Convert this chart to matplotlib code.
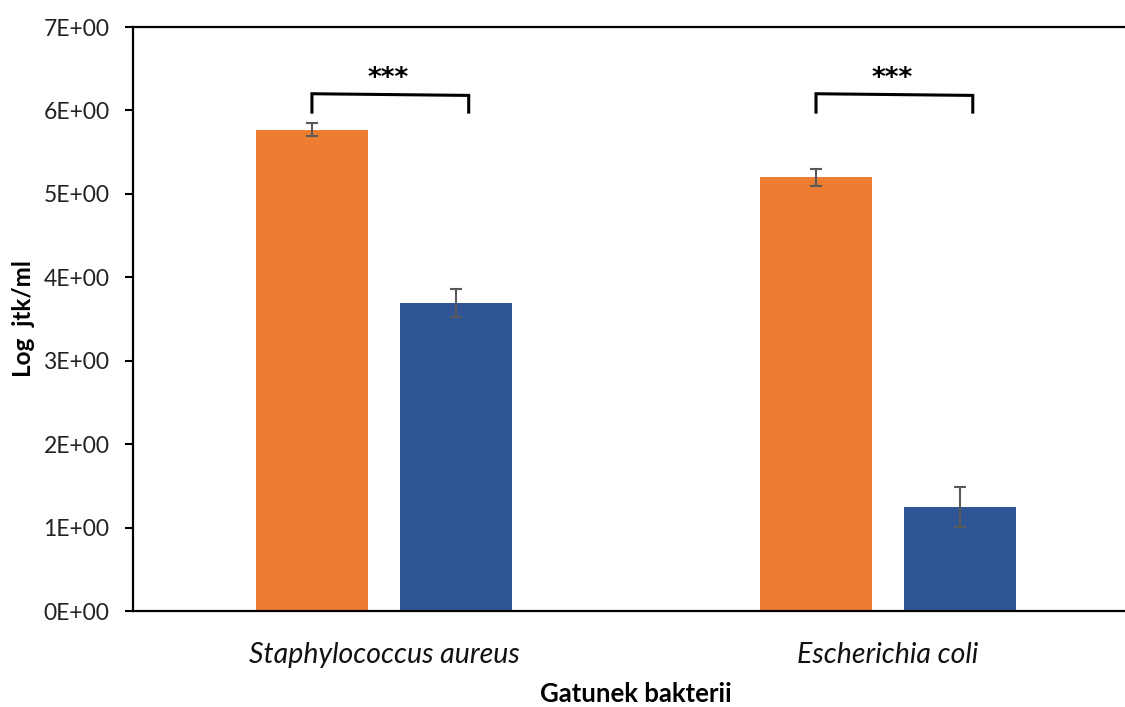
import matplotlib
matplotlib.use("Agg")
import matplotlib.pyplot as plt
import numpy as np

categories = ["Staphylococcus aureus", "Escherichia coli"]
orange_vals = [5.77, 5.20]
orange_err = [0.08, 0.10]
blue_vals = [3.69, 1.25]
blue_err = [0.17, 0.24]
yticks = [0, 1, 2, 3, 4, 5, 6, 7]
ytick_labels = ["0E+00", "1E+00", "2E+00", "3E+00", "4E+00", "5E+00", "6E+00", "7E+00"]
sig_labels = ["***", "***"]

plt.rcParams['font.family'] = ['Lato', 'DejaVu Sans']

W, H = 1125, 707
fig = plt.figure(figsize=(W/100, H/100), dpi=100)
ax = fig.add_axes([133/W, 1-611/H, (1125-133)/W, (611-27)/H])

x = np.arange(len(categories))
bw = 0.222
off = 0.143
ekw = dict(ecolor="#595959", elinewidth=1.5, capsize=4.3, capthick=1.5)
ax.bar(x - off, orange_vals, bw, color="#ED7D31", yerr=orange_err, error_kw=ekw, zorder=2)
ax.bar(x + off, blue_vals, bw, color="#2F5597", yerr=blue_err, error_kw=ekw, zorder=2)

ax.set_xlim(-0.498, 1.470)
ax.set_ylim(0, 7)
ax.set_yticks(yticks)
ax.set_yticklabels(ytick_labels, fontsize=16.5, color="#222222")
ax.set_xticks(x)
ax.set_xticklabels(categories, fontsize=20.5, style="italic", color="#111111")
ax.tick_params(axis="x", length=0, pad=22)
ax.tick_params(axis="y", length=6, width=1.5, direction="out", pad=11)

for s in ["left", "bottom", "top"]:
    ax.spines[s].set_linewidth(1.6)
    ax.spines[s].set_color("black")
ax.spines["right"].set_visible(False)

ax.set_ylabel("Log  jtk/ml", fontsize=17.5, fontweight="bold", labelpad=6)
fig.text(636 / W, (707 - 694) / H, "Gatunek bakterii",
         ha="center", va="center", fontsize=18.5, fontweight="bold")

# significance brackets
for i, lab in enumerate(sig_labels):
    xl = i - off
    xr = i + off + 0.025
    ax.plot([xl, xl, xr, xr], [5.98, 6.2, 6.18, 5.98], color="black", lw=2.2,
            solid_joinstyle="miter", zorder=3)
    ax.text((xl + xr) / 2 - 0.005, 6.22, lab, ha="center", va="bottom",
            fontsize=19, fontweight="bold", family="DejaVu Sans")

fig.savefig("out.png", dpi=100)
